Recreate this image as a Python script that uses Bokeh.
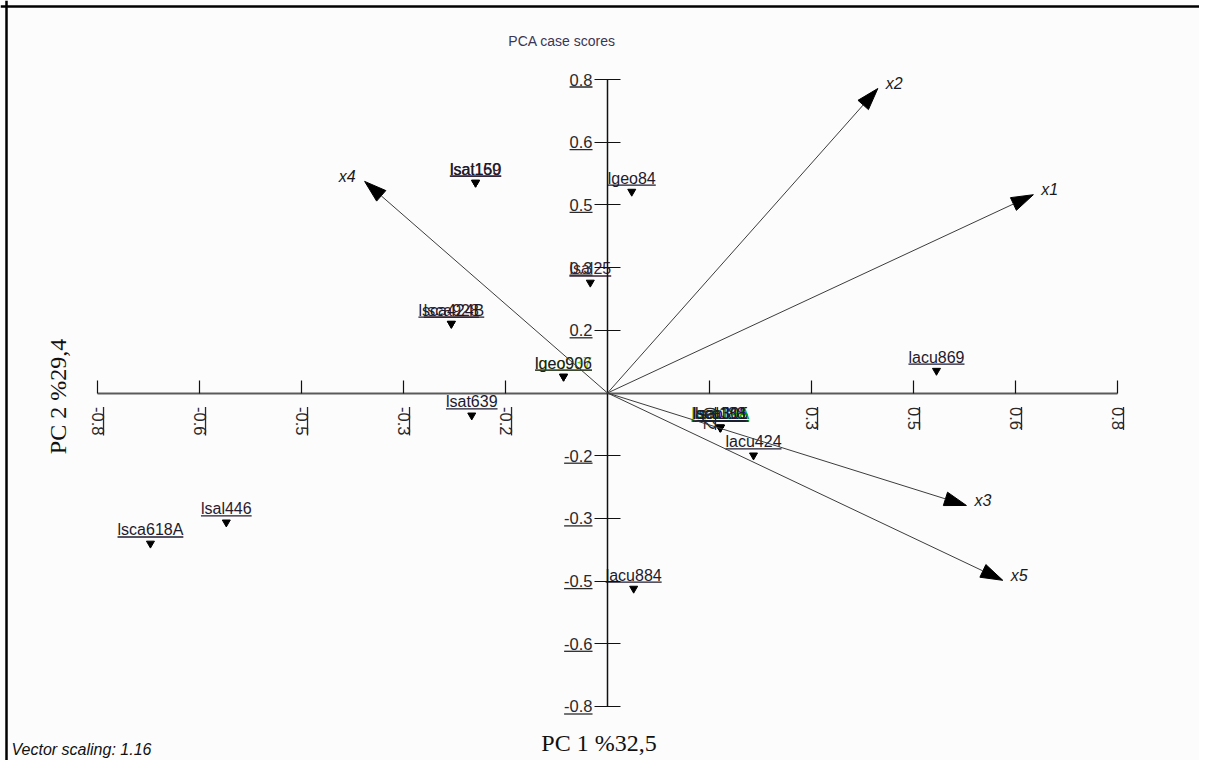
import math
from bokeh.plotting import figure
from bokeh.models import (Range1d, LinearAxis, FixedTicker, Arrow,
                          ColumnDataSource, Span)
from bokeh.core.properties import value, field
from bokeh.embed import file_html
from bokeh.resources import INLINE

# ---------------- data ----------------
case_labels = ["lsal169", "lsat150", "lgeo84", "lsal25", "lsca928", "lsca424B",
               "lgeo937", "lgeo906", "lsat639",
               "lsat148", "lgeo115", "lacu19A", "lsal188", "lsca301",
               "lacu424", "lacu869", "lsal446", "lsca618A", "lacu884"]
pc1 = [-0.207, -0.207, 0.038, -0.027, -0.245, -0.245,
       -0.069, -0.069, -0.213,
       0.177, 0.177, 0.177, 0.177, 0.177,
       0.229, 0.516, -0.598, -0.717, 0.041]
pc2 = [0.537, 0.537, 0.514, 0.282, 0.177, 0.177,
       0.042, 0.042, -0.057,
       -0.088, -0.088, -0.088, -0.088, -0.088,
       -0.159, 0.057, -0.330, -0.384, -0.499]
label_colors = ["#4a1c2c", "#1e1a2e", "#1e1a2e", "#3a2438", "#4a1c1c", "#1e1a2e",
                "#7cc800", "#1e1a2e", "#1e1a2e",
                "#e0e000", "#0000c8", "#00a000", "#1e1a2e", "#1e1a2e",
                "#1e1a2e", "#1e1a2e", "#2a1a30", "#1e1a2e", "#1e1a2e"]

var_names = ["x1", "x2", "x3", "x4", "x5"]
vec_pc1 = [0.668, 0.424, 0.563, -0.381, 0.620]
vec_pc2 = [0.506, 0.777, -0.287, 0.540, -0.478]

tick_values = [-0.8, -0.64, -0.48, -0.32, -0.16, 0.16, 0.32, 0.48, 0.64, 0.8]
tick_labels = ["-0.8", "-0.6", "-0.5", "-0.3", "-0.2", "0.2", "0.3", "0.5", "0.6", "0.8"]

title_text = "PCA case scores"
x_title = "PC 1 %32,5"
y_title = "PC 2 %29,4"
footer_text = "Vector scaling: 1.16"

# ---------------- layout ----------------
W, H = 1199, 760
x0, x1 = -0.9522, 0.9286
y0, y1 = -0.9378, 1.0016
sx = W / (x1 - x0)   # px per unit
sy = H / (y1 - y0)

AR = {'l': .222, 's': .5, 'a': .556, 't': .278, 'c': .5, 'u': .556, 'g': .556,
      'e': .556, 'o': .556, 'A': .667, 'B': .667, '-': .333, '.': .278}


def text_w(s, fs):
    return sum(AR.get(ch, .556) for ch in s) * fs


def px(v):
    return v / sx


def py(v):
    return v / sy


p = figure(width=W, height=H, x_range=Range1d(x0, x1), y_range=Range1d(y0, y1),
           output_backend="svg", toolbar_location=None,
           x_axis_type=None, y_axis_type=None, min_border=0,
           background_fill_color="#fcfcfc", border_fill_color="#fcfcfc",
           outline_line_color=None)

TICK_FS = 16.5
override = {t: l for t, l in zip(tick_values, tick_labels)}

xax = LinearAxis(fixed_location=0, bounds=(-0.8, 0.8),
                 ticker=FixedTicker(ticks=tick_values, minor_ticks=[]),
                 major_label_overrides=override,
                 major_label_orientation="vertical",
                 major_tick_in=13, major_tick_out=0, minor_tick_in=0, minor_tick_out=0,
                 major_label_standoff=14,
                 axis_line_color="#5a5a5a", axis_line_width=2,
                 major_tick_line_color="#111111", major_tick_line_width=1.2,
                 major_label_text_font="Liberation Sans",
                 major_label_text_font_size=f"{TICK_FS}px",
                 major_label_text_color="#2a2a2a")
p.add_layout(xax, "below")

yax = LinearAxis(fixed_location=0, bounds=(-0.8, 0.8),
                 ticker=FixedTicker(ticks=tick_values, minor_ticks=[]),
                 major_label_overrides=override,
                 major_tick_in=13, major_tick_out=13, minor_tick_in=0, minor_tick_out=0,
                 major_label_standoff=2,
                 axis_line_color="#111111", axis_line_width=1.5,
                 major_tick_line_color="#111111", major_tick_line_width=1.2,
                 major_label_text_font="Liberation Sans",
                 major_label_text_font_size=f"{TICK_FS}px",
                 major_label_text_color="#2a2a2a")
p.add_layout(yax, "left")

# underlines of tick labels
ux0, ux1, uy0, uy1 = [], [], [], []
for t, l in zip(tick_values, tick_labels):
    w = text_w(l, TICK_FS)
    ux0.append(-px(15 + w)); ux1.append(-px(15))
    uy0.append(t - py(7.5)); uy1.append(t - py(7.5))
    ux0.append(t + px(6)); ux1.append(t + px(6))
    uy0.append(-py(14)); uy1.append(-py(14 + w))
p.segment(ux0, uy0, ux1, uy1, line_color="#2a2a2a", line_width=1.3)

# vectors: shaft + filled head
HEAD_L, HEAD_HW = 22, 7
bx, by, hxs, hys = [], [], [], []
for vx, vy in zip(vec_pc1, vec_pc2):
    dx, dy = vx * sx, vy * sy
    L = math.hypot(dx, dy)
    ux, uy = dx / L, dy / L
    nx, ny = -uy, ux
    bxp, byp = dx - HEAD_L * ux, dy - HEAD_L * uy
    bx.append(px(bxp)); by.append(py(byp))
    hxs.append([vx, px(bxp + HEAD_HW * nx), px(bxp - HEAD_HW * nx)])
    hys.append([vy, py(byp + HEAD_HW * ny), py(byp - HEAD_HW * ny)])
vsrc = ColumnDataSource(dict(x=vec_pc1, y=vec_pc2, bx=bx, by=by, name=var_names,
                             align=["left" if v >= 0 else "right" for v in vec_pc1],
                             lx=[v + (px(8) if v >= 0 else -px(9)) for v in vec_pc1],
                             ly=[v + py(5) for v in vec_pc2]))
p.add_layout(Arrow(end=None, x_start=0, y_start=0, x_end="bx", y_end="by", source=vsrc,
                   line_color="#3c3c3c", line_width=1))
p.patches(hxs, hys, fill_color="black", line_color="black", line_width=1)
p.text(x="lx", y="ly", text="name", source=vsrc, text_align=field("align"),
       text_baseline="middle", text_font=value("Liberation Sans"),
       text_font_style="italic", text_font_size="16px", text_color="#1a1a1a")

# case scores
FS = 16
ty = [y + py(13.5) for y in pc2]
csrc = ColumnDataSource(dict(x=pc1, y=pc2, ty=ty, lab=case_labels, col=label_colors))
p.scatter(x="x", y="y", source=csrc, marker="inverted_triangle", size=8,
          fill_color="black", line_color="black")
p.text(x="x", y="ty", text="lab", source=csrc, text_align="center",
       text_baseline="middle",
       text_font=value("Liberation Sans"), text_font_size=f"{FS}px",
       text_color=field("col"))
lx0, lx1, ly = [], [], []
for x, y, l in zip(pc1, pc2, case_labels):
    w = text_w(l, FS)
    lx0.append(x - px(w / 2)); lx1.append(x + px(w / 2))
    ly.append(y + py(6.5))
p.segment(lx0, ly, lx1, ly, line_color=label_colors, line_width=1.3)

# titles
p.text(x=[px(561.5 - 607)], y=[py(392.5 - 40)], text=[title_text], text_align="center",
       text_baseline="middle", text_font=value("Liberation Sans"),
       text_font_size="14px", text_color="#3a3656")
p.text(x=[px(598.5 - 607)], y=[py(392.5 - 742)], text=[x_title], text_align="center",
       text_baseline="middle", text_font=value("Liberation Serif"),
       text_font_size="24px", text_color="#111111")
p.text(x=[px(57 - 607)], y=[py(392.5 - 396)], text=[y_title], text_align="center",
       angle=math.pi / 2,
       text_baseline="middle", text_font=value("Liberation Serif"),
       text_font_size="24px", text_color="#111111")
p.text(x=[px(11 - 607)], y=[py(392.5 - 749)], text=[footer_text], text_align="left",
       text_baseline="middle", text_font=value("Liberation Sans"),
       text_font_style="italic", text_font_size="16px", text_color="#111111")

# frame border (top and left)
p.add_layout(Span(location=x0 + px(6), dimension="height", line_color="black", line_width=2.5))
p.add_layout(Span(location=y1 - py(6), dimension="width", line_color="black", line_width=2.5))

open("out.html", "w").write(file_html(p, INLINE))
